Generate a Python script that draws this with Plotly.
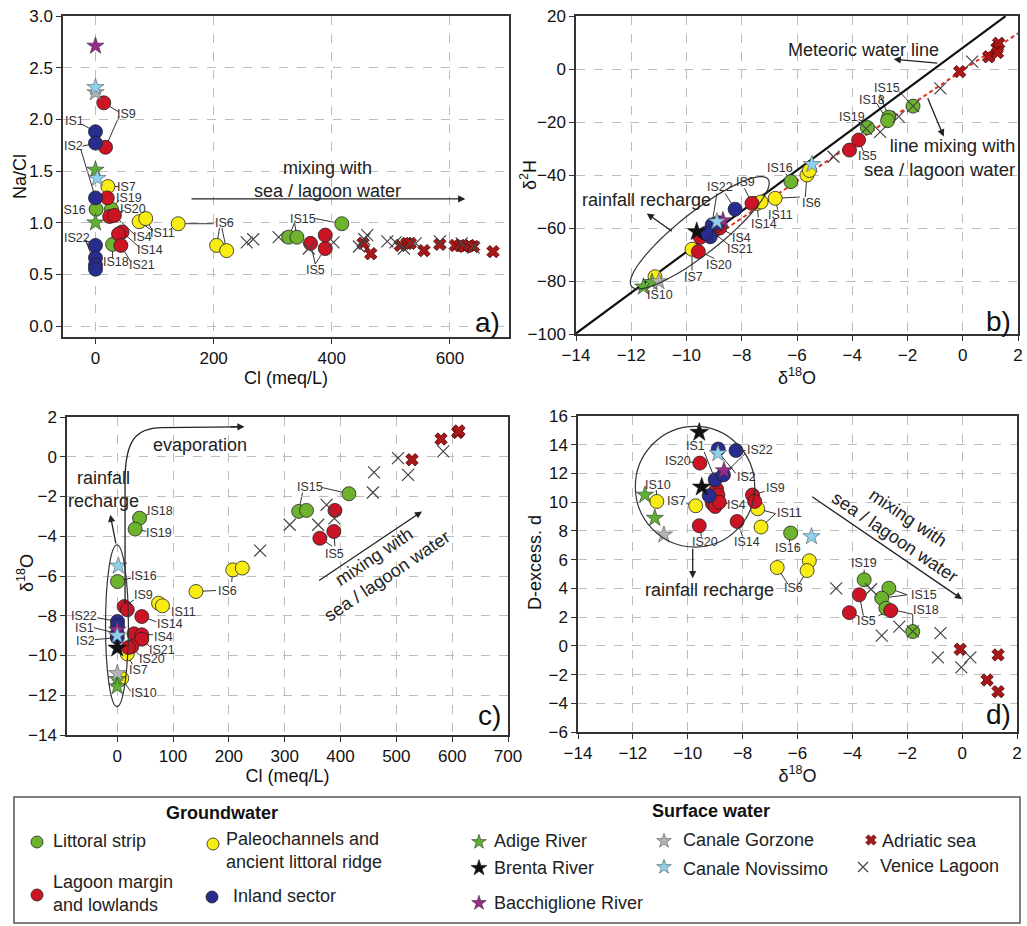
import numpy as np
import plotly.graph_objects as go

FONT = "Liberation Sans, Arial, sans-serif"

# ---------------- DATA ----------------
# Panel a: Cl (meq/L) vs Na/Cl
a_littoral = ([1, 27, 29, 327, 341, 417], [1.13, 1.13, 0.79, 0.86, 0.86, 0.99])
a_paleo = ([21, 74, 85, 140, 205, 222], [1.35, 1.01, 1.04, 0.99, 0.78, 0.73])
a_lagoon = ([14, 17, 20, 24, 32, 45, 39, 43, 364, 389, 389],
            [2.16, 1.73, 1.24, 1.06, 1.07, 0.91, 0.89, 0.78, 0.80, 0.88, 0.75])
a_inland = ([0, 0, 0, 0, 0, 0, 0], [1.88, 1.77, 1.24, 0.78, 0.66, 0.59, 0.55])
a_adige = ([0, 0], [1.51, 1.0])
a_brenta = ([], [])
a_bacch = ([0], [2.71])
a_gorzone = ([0], [2.26])
a_novissimo = ([0, 3], [2.31, 1.43])
a_adriatic = ([453, 466, 516, 527, 533, 556, 583, 609, 617, 624, 633, 640, 673],
              [0.80, 0.70, 0.78, 0.80, 0.80, 0.73, 0.79, 0.78, 0.78, 0.77, 0.78, 0.77, 0.72])
a_venice = ([256, 267, 310, 361, 403, 446, 455, 460, 494, 508, 522, 542, 583, 620, 640],
            [0.81, 0.84, 0.86, 0.75, 0.81, 0.77, 0.84, 0.88, 0.82, 0.81, 0.75, 0.80, 0.82, 0.80, 0.76])

# Panel b: d18O vs d2H
b_littoral = ([-1.8, -2.68, -2.72, -3.45, -6.22], [-14, -18.2, -19.5, -22.1, -42.5])
b_paleo = ([-5.64, -5.55, -6.79, -7.45, -7.3, -9.8, -11.14], [-40, -38.3, -48.8, -50.7, -50.2, -68, -78.4])
b_lagoon = ([-7.63, -3.77, -4.1, -9.5, -9.57, -9.0, -8.8, -9.2, -8.9],
            [-50.7, -26.8, -30.6, -63.5, -68.9, -61, -60, -62.5, -59])
b_inland = ([-8.24, -9.07, -9.14, -8.85, -9.3], [-52.9, -58.8, -63.3, -58, -62])
b_adige = ([-11.56, -11.25], [-82.2, -80.5])
b_brenta = ([-9.63], [-61.4])
b_bacch = ([-8.68], [-57.2])
b_gorzone = ([-11.0], [-80.2])
b_novissimo = ([-8.9, -5.46], [-57.6, -36])
b_adriatic = ([-0.11, 0.94, 1.24, 1.3, 1.26], [-1.0, 4.6, 7.8, 9.7, 6.2])
b_venice = ([-4.68, -2.99, -2.32, -0.81, 0.34, -3.5, -1.8], [-33.1, -23.7, -18, -7.3, 2.8, -22.5, -14])
MWL_SLOPE, MWL_INTERCEPT, MWL_X = 7.7, 8.0, [-14, 1.55]
MIX_SLOPE, MIX_INTERCEPT, MIX_X = 6.98, -0.46, [-9.0, 2.0]

# Panel c: Cl (meq/L) vs d18O
c_littoral = ([40, 32, 0.5, 415, 325, 339], [-3.09, -3.64, -6.28, -1.86, -2.75, -2.7])
c_paleo = ([141, 207, 224, 74, 81, 18, 8], [-6.78, -5.69, -5.6, -7.37, -7.5, -9.92, -11.15])
c_lagoon = ([12.5, 18, 44, 30, 44, 44, 26, 20, 390, 388, 363],
            [-7.54, -7.7, -8.04, -8.91, -8.96, -9.18, -9.55, -9.6, -2.7, -3.76, -4.1])
c_inland = ([0.5, 0.5, 0, 0], [-8.29, -8.5, -8.9, -9.1])
c_adige = ([0, 0], [-11.2, -11.56])
c_brenta = ([0], [-9.63])
c_bacch = ([0], [-8.71])
c_gorzone = ([0], [-10.9])
c_novissimo = ([2, 0], [-5.49, -9.0])
c_adriatic = ([528, 580, 610, 612], [-0.15, 0.89, 1.22, 1.3])
c_venice = ([256, 309, 360, 375, 389, 458, 460, 503, 521, 584],
            [-4.72, -3.42, -3.42, -2.42, -3.1, -1.8, -0.79, -0.07, -0.91, 0.27])

# Panel d: d18O vs D-excess
d_littoral = ([-6.25, -3.57, -2.67, -2.93, -2.78, -1.8], [7.85, 4.6, 4.01, 3.32, 2.62, 0.99])
d_paleo = ([-11.13, -9.71, -7.45, -7.33, -6.74, -5.57, -5.65], [10.05, 9.75, 9.54, 8.27, 5.45, 5.92, 5.24])
d_lagoon = ([-9.56, -9.58, -8.2, -7.64, -7.56, -8.95, -8.9, -9.1, -9.0, -8.85, -3.75, -4.11, -2.6],
            [12.72, 8.36, 8.66, 10.5, 10.05, 10.9, 10.5, 9.9, 9.7, 10.0, 3.55, 2.31, 2.45])
d_inland = ([-8.89, -8.24, -9.0, -8.7, -9.22], [13.7, 13.6, 11.56, 11.9, 10.45])
d_adige = ([-11.56, -11.2], [10.5, 8.89])
d_brenta = ([-9.58, -9.49], [14.86, 11.05])
d_bacch = ([-8.68], [12.2])
d_gorzone = ([-10.87], [7.73])
d_novissimo = ([-8.9, -5.49], [13.4, 7.61])
d_adriatic = ([-0.07, 1.31, 0.91, 1.31], [-0.24, -0.63, -2.38, -3.19])
d_venice = ([-4.59, -3.32, -2.93, -2.29, -1.8, -0.79, -0.88, -0.03, 0.3],
            [4.0, 3.94, 0.71, 1.34, 1.0, 0.88, -0.8, -1.5, -0.8])

CATEGORY_NAMES = ["Littoral strip", "Paleochannels and ancient littoral ridge", "Lagoon margin and lowlands",
                  "Inland sector", "Adige River", "Brenta River", "Bacchiglione River", "Canale Gorzone",
                  "Canale Novissimo", "Adriatic sea", "Venice Lagoon"]

# ---------------- STYLES ----------------
GREEN, YELLOW, RED, BLUE = "#6db32e", "#f7ec13", "#cc1424", "#272c8e"
STYLE = {
    "Littoral strip": dict(symbol="circle", color=GREEN, size=14, line=dict(color="#222", width=0.8)),
    "Paleochannels and ancient littoral ridge": dict(symbol="circle", color=YELLOW, size=14, line=dict(color="#222", width=0.8)),
    "Lagoon margin and lowlands": dict(symbol="circle", color=RED, size=14, line=dict(color="#222", width=0.8)),
    "Inland sector": dict(symbol="circle", color=BLUE, size=14, line=dict(color="#222", width=0.8)),
    "Adige River": dict(symbol="star", color="#5cb133", size=13, line=dict(color="#333", width=0.6)),
    "Brenta River": dict(symbol="star", color="#111111", size=14, line=dict(color="#111", width=0.6)),
    "Bacchiglione River": dict(symbol="star", color="#9a2a8e", size=13, line=dict(color="#333", width=0.6)),
    "Canale Gorzone": dict(symbol="star", color="#b4b4b4", size=13, line=dict(color="#555", width=0.6)),
    "Canale Novissimo": dict(symbol="star", color="#8fd0ef", size=13, line=dict(color="#555", width=0.6)),
    "Adriatic sea": dict(symbol="x", color="#a81818", size=11, line=dict(color="#4d0000", width=0.8)),
    "Venice Lagoon": dict(symbol="x-thin", color="#444", size=12, line=dict(color="#444", width=1.2)),
}
DRAW_ORDER = ["Adriatic sea", "Littoral strip", "Paleochannels and ancient littoral ridge",
              "Lagoon margin and lowlands", "Inland sector", "Adige River", "Brenta River",
              "Bacchiglione River", "Canale Gorzone", "Canale Novissimo", "Venice Lagoon"]

PANELS = {
    "a": ("x", "y", [a_littoral, a_paleo, a_lagoon, a_inland, a_adige, a_brenta, a_bacch, a_gorzone, a_novissimo, a_adriatic, a_venice]),
    "b": ("x2", "y2", [b_littoral, b_paleo, b_lagoon, b_inland, b_adige, b_brenta, b_bacch, b_gorzone, b_novissimo, b_adriatic, b_venice]),
    "c": ("x3", "y3", [c_littoral, c_paleo, c_lagoon, c_inland, c_adige, c_brenta, c_bacch, c_gorzone, c_novissimo, c_adriatic, c_venice]),
    "d": ("x4", "y4", [d_littoral, d_paleo, d_lagoon, d_inland, d_adige, d_brenta, d_bacch, d_gorzone, d_novissimo, d_adriatic, d_venice]),
}

W, H = 1027, 926
fig = go.Figure()
ann, shapes = [], []
LC = "#333"

# lines in panel b (drawn first, below markers)
mx = np.array(MWL_X)
fig.add_trace(go.Scatter(x=mx, y=MWL_SLOPE * mx + MWL_INTERCEPT, mode="lines", xaxis="x2", yaxis="y2",
                         line=dict(color="#111", width=2.2), showlegend=False, hoverinfo="skip"))
mm = np.array(MIX_X)
fig.add_trace(go.Scatter(x=mm, y=MIX_SLOPE * mm + MIX_INTERCEPT, mode="lines", xaxis="x2", yaxis="y2",
                         line=dict(color="#e03020", width=2, dash="4px,3px"), showlegend=False, hoverinfo="skip"))

for key, (xr, yr, series) in PANELS.items():
    by_name = dict(zip(CATEGORY_NAMES, series))
    for name in DRAW_ORDER:
        xs, ys = by_name[name]
        if not xs:
            continue
        st = STYLE[name]
        fig.add_trace(go.Scatter(x=xs, y=ys, mode="markers", xaxis=xr, yaxis=yr, name=name, showlegend=False,
                                 marker=dict(symbol=st["symbol"], color=st["color"], size=st["size"], line=st["line"])))

REFS = {"a": ("x", "y"), "b": ("x2", "y2"), "c": ("x3", "y3"), "d": ("x4", "y4")}


def label(p, text, x, y, segs=(), size=12.5):
    xr, yr = REFS[p]
    ann.append(dict(xref=xr, yref=yr, x=x, y=y, text=text, showarrow=False,
                    font=dict(family=FONT, size=size, color="#333")))
    for (x0, y0, x1, y1) in segs:
        shapes.append(dict(type="line", xref=xr, yref=yr, x0=x0, y0=y0, x1=x1, y1=y1, layer="below",
                           line=dict(color=LC, width=1)))


def text(p, t, x, y, size=18, angle=0, **kw):
    xr, yr = REFS[p]
    ann.append(dict(xref=xr, yref=yr, x=x, y=y, text=t, showarrow=False, textangle=angle,
                    font=dict(family=FONT, size=size, color="#222"), **kw))


def arrow(p, x0, y0, x1, y1):
    xr, yr = REFS[p]
    ann.append(dict(xref=xr, yref=yr, axref=xr, ayref=yr, x=x1, y=y1, ax=x0, ay=y0, text="",
                    showarrow=True, arrowhead=2, arrowsize=1.1, arrowwidth=1.3, arrowcolor="#222"))


def ytitle(t, px, py):
    ann.append(dict(xref="paper", yref="paper", x=px / W, y=1 - py / H, text=t, showarrow=False,
                    xanchor="center", yanchor="middle",
                    textangle=-90, font=dict(family=FONT, size=18, color="#111")))


# ---- panel a labels ----
label("a", "IS9", 53, 2.05, [(40, 2.07, 14, 2.16), (40, 2.03, 17, 1.73)])
label("a", "IS1", -35, 1.98, [(-22, 1.95, 0, 1.88)])
label("a", "IS2", -38, 1.74, [(-22, 1.74, 0, 1.77), (-25, 1.71, 0, 1.24)])
label("a", "IS7", 53, 1.35, [(40, 1.35, 21, 1.35)])
label("a", "IS19", 56, 1.24, [(40, 1.22, 27, 1.13)])
label("a", "IS16", -38, 1.12)
label("a", "IS20", 64, 1.13, [(48, 1.12, 32, 1.07)])
label("a", "IS11", 114, 0.90, [(97, 0.92, 74, 1.01), (97, 0.92, 85, 1.04)])
label("a", "IS4", 80, 0.86, [(67, 0.88, 32, 1.07)])
label("a", "IS14", 93, 0.74, [(75, 0.76, 45, 0.91)])
label("a", "IS22", -32, 0.85, [(-17, 0.83, 0, 0.78), (-17, 0.83, 0, 0.66), (-17, 0.83, 0, 0.59)])
label("a", "IS18", 35, 0.62, [(29, 0.66, 29, 0.79)])
label("a", "IS21", 79, 0.59, [(60, 0.62, 43, 0.78)])
label("a", "IS6", 218, 1.0, [(140, 0.99, 200, 0.99), (210, 0.95, 205, 0.78), (214, 0.95, 222, 0.73)])
label("a", "IS15", 352, 1.04, [(372, 1.04, 417, 0.99), (337, 1.0, 327, 0.86), (337, 1.0, 341, 0.86)])
label("a", "IS5", 372, 0.54, [(372, 0.6, 364, 0.80), (372, 0.6, 389, 0.75)])
text("a", "mixing with<br>sea / lagoon water", 392, 1.42, size=18)
arrow("a", 160, 1.23, 626, 1.23)

# ---- panel b labels ----
label("b", "IS15", -2.74, -7.3, [(-2.3, -8.5, -1.8, -14), (-3.0, -9.5, -2.68, -18.2)])
label("b", "IS18", -3.29, -11.7, [(-3.1, -13.2, -2.72, -19.5)])
label("b", "IS19", -4.01, -18, [(-3.8, -19.8, -3.45, -22.1)])
label("b", "IS16", -6.61, -37.5, [(-6.4, -39.5, -6.22, -42.5)])
label("b", "IS6", -5.46, -50.7, [(-5.7, -48.3, -5.64, -40), (-5.9, -48.3, -6.79, -48.8)])
label("b", "IS5", -3.45, -32.8, [(-3.6, -31, -3.77, -26.8)])
label("b", "IS11", -6.61, -55.1, [(-6.7, -53, -6.79, -48.8)])
label("b", "IS14", -7.21, -58.5, [(-7.4, -56, -7.45, -50.7)])
label("b", "IS9", -7.88, -42.5, [(-7.9, -45, -7.63, -50.7)])
label("b", "IS22", -8.78, -44.4, [(-8.6, -47, -8.24, -52.9), (-8.9, -47, -9.07, -58)])
label("b", "IS4", -8.0, -63.9, [(-8.35, -62.5, -8.8, -60)])
label("b", "IS21", -8.06, -68, [(-8.45, -66.5, -9.0, -62)])
label("b", "IS20", -8.84, -74, [(-9.0, -71.5, -9.5, -68.9)])
label("b", "IS7", -9.75, -78.4, [(-9.8, -76, -9.8, -68)])
label("b", "IS10", -10.96, -85.3, [(-11.1, -83, -11.14, -78.4)])
text("b", "Meteoric water line", -3.59, 7.2)
arrow("b", -0.87, 2.15, -2.5, 3.7)
text("b", "line mixing with<br>sea / lagoon water", 1.95, -33.4, size=18.5, xanchor="right", align="right")
arrow("b", -1.29, -10.5, -0.69, -25.5)
text("b", "rainfall recharge", -11.44, -49.4)
arrow("b", -10.47, -61.6, -11.44, -54.5)
# ellipse around rainfall recharge cluster (b)
C = np.array([-9.52, -61.8]); U = np.array([2.47, 20.25]); V = np.array([0.468, -6.23])
t = np.linspace(0, 2 * np.pi, 73)
pts = C[None, :] + np.cos(t)[:, None] * U[None, :] + np.sin(t)[:, None] * V[None, :]
path = "M " + " L ".join(f"{px:.4f},{py:.4f}" for px, py in pts) + " Z"
shapes.append(dict(type="path", path=path, xref="x2", yref="y2", line=dict(color="#333", width=1.2)))

# ---- panel c labels ----
label("c", "IS18", 77, -2.75, [(55, -2.9, 40, -3.09)])
label("c", "IS19", 74, -3.83, [(52, -3.75, 32, -3.64)])
label("c", "IS16", 48, -6.0, [(25, -6.1, 0.5, -6.28)])
label("c", "IS9", 47, -6.95, [(30, -7.2, 12.5, -7.54)])
label("c", "IS11", 118, -7.8, [(94, -7.65, 81, -7.5)])
label("c", "IS14", 94, -8.4, [(70, -8.3, 44, -8.04)])
label("c", "IS22", -60, -8.0, [(-36, -8.1, 0.5, -8.29)])
label("c", "IS1", -58, -8.6, [(-42, -8.6, 0, -8.9)])
label("c", "IS2", -56, -9.25, [(-40, -9.2, 0, -9.1)])
label("c", "IS4", 82, -9.05, [(64, -8.95, 44, -8.96)])
label("c", "IS21", 80, -9.7, [(58, -9.55, 44, -9.18)])
label("c", "IS20", 62, -10.2, [(42, -10.05, 26, -9.55)])
label("c", "IS7", 38, -10.75, [(27, -10.45, 18, -9.92)])
label("c", "IS10", 48, -11.9, [(24, -11.8, 8, -11.15)])
label("c", "IS6", 198, -6.73, [(177, -6.73, 141, -6.78), (205, -6.3, 207, -5.69)])
label("c", "IS15", 345, -1.5, [(332, -1.8, 325, -2.75), (367, -1.55, 415, -1.86)])
label("c", "IS5", 390, -4.9, [(385, -4.5, 363, -4.1), (390, -4.5, 388, -3.76)])
text("c", "evaporation", 148, 0.6)
shapes.append(dict(type="path", xref="x3", yref="y3", line=dict(color="#222", width=1.3),
                   path="M 14,-7.4 L 14,-1.2 C 14,0.9 35,1.45 80,1.47 L 215,1.5"))
arrow("c", 200, 1.5, 228, 1.51)
text("c", "rainfall<br>recharge", -25, -1.66)
arrow("c", -2, -4.43, -12.5, -2.92)
shapes.append(dict(type="circle", xref="x3", yref="y3", x0=-21, x1=20, y0=-12.57, y1=-4.43,
                   line=dict(color="#333", width=1.2)))
text("c", "mixing with<br>sea / lagoon water", 471, -5.52, size=18, angle=-34)
arrow("c", 359, -6.28, 546, -2.75)

# ---- panel d labels ----
label("d", "IS1", -9.7, 13.9, [(-9.4, 13.5, -9.0, 11.56)])
label("d", "IS22", -7.37, 13.65, [(-7.9, 13.6, -8.24, 13.6), (-7.9, 13.4, -8.7, 11.9)])
label("d", "IS20", -10.35, 12.9, [(-9.95, 12.8, -9.56, 12.72)])
label("d", "IS2", -7.85, 11.75, [(-8.25, 12.0, -8.89, 13.5)])
label("d", "IS10", -11.07, 11.2, [(-11.15, 10.85, -11.13, 10.4)])
label("d", "IS7", -10.4, 10.05, [(-10.05, 9.9, -9.71, 9.75)])
label("d", "IS4", -8.21, 9.82, [(-8.55, 9.9, -8.85, 10.0)])
label("d", "IS20", -9.37, 7.26, [(-9.5, 7.6, -9.58, 8.36)])
label("d", "IS14", -7.85, 7.26, [(-8.0, 7.6, -8.2, 8.66)])
label("d", "IS9", -6.8, 10.98, [(-7.2, 10.75, -7.64, 10.5)])
label("d", "IS11", -6.3, 9.28, [(-6.8, 9.2, -7.45, 9.54), (-6.8, 9.2, -7.33, 8.27)])
label("d", "IS16", -6.34, 6.8, [(-6.3, 7.2, -6.25, 7.85)])
label("d", "IS6", -6.16, 4.0, [(-6.35, 4.3, -6.74, 5.45), (-5.95, 4.3, -5.65, 5.24)])
label("d", "IS19", -3.57, 5.8, [(-3.57, 5.3, -3.57, 4.6)])
label("d", "IS15", -1.4, 3.55, [(-2.0, 3.55, -2.67, 4.01), (-2.0, 3.55, -2.93, 3.32)])
label("d", "IS18", -1.3, 2.5, [(-1.8, 2.2, -1.8, 1.35), (-1.8, 2.2, -2.78, 2.62)])
label("d", "IS5", -3.48, 1.73, [(-3.75, 2.05, -4.11, 2.31), (-3.6, 2.1, -3.75, 3.55), (-3.05, 2.1, -2.6, 2.45)])
text("d", "rainfall recharge", -9.19, 3.9)
arrow("d", -9.82, 6.87, -9.82, 4.71)
shapes.append(dict(type="circle", xref="x4", yref="y4", x0=-11.91, x1=-7.56, y0=6.87, y1=15.28,
                   line=dict(color="#333", width=1.2)))
text("d", "mixing with<br>sea / lagoon water", -2.2, 8.25, size=18, angle=34)
arrow("d", -5.52, 10.45, 0.0, 3.25)

# panel letters
for xr, yr, lab, xx, yy in [("x", "y", "a)", 0.985, 0.045), ("x2", "y2", "b)", 0.988, 0.04),
                            ("x3", "y3", "c)", 0.988, 0.06), ("x4", "y4", "d)", 0.99, 0.055)]:
    ann.append(dict(xref=f"{xr} domain", yref=f"{yr} domain", x=xx, y=yy, text=lab, showarrow=False,
                    xanchor="right", yanchor="middle", font=dict(family=FONT, size=28, color="#111")))

# y-axis titles (placed as in the reference)
ytitle("Na/Cl", 20, 177)
ytitle("δ<sup>2</sup>H", 529, 175)
ytitle("δ<sup>18</sup>O", 25, 573)
ytitle("D-excess. d", 535, 563)

# ---------------- LEGEND (overlay pixel axis limited to legend area) ----------------
LEG_TOP = 790
LEG_ITEMS = [
    ("Littoral strip", 37, 842, "Littoral strip", 51, 841),
    ("Paleochannels and ancient littoral ridge", 213, 844, "Paleochannels and<br>ancient littoral ridge", 224, 850),
    ("Lagoon margin and lowlands", 37, 895, "Lagoon margin<br>and lowlands", 51, 893),
    ("Inland sector", 212, 897, "Inland sector", 231, 896),
    ("Adige River", 479, 842, "Adige River", 492, 841),
    ("Brenta River", 479, 868, "Brenta River", 492, 868),
    ("Bacchiglione River", 479, 903, "Bacchiglione River", 492, 903),
    ("Canale Gorzone", 664, 841, "Canale Gorzone", 681, 840),
    ("Canale Novissimo", 664, 867, "Canale Novissimo", 681, 869),
    ("Adriatic sea", 871, 840, "Adriatic sea", 880, 841),
    ("Venice Lagoon", 863, 867, "Venice Lagoon", 878, 866),
]
for name, mx_, my_, t_, tx, ty in LEG_ITEMS:
    st = STYLE[name]
    sz = st["size"] - 2
    fig.add_trace(go.Scatter(x=[mx_], y=[my_], mode="markers", xaxis="x5", yaxis="y5", showlegend=False,
                             hoverinfo="skip",
                             marker=dict(symbol=st["symbol"], color=st["color"], size=sz, line=st["line"])))
    ann.append(dict(xref="x5", yref="y5", x=tx, y=ty, text=t_, showarrow=False, xanchor="left", align="left",
                    font=dict(family=FONT, size=18, color="#222")))
ann.append(dict(xref="x5", yref="y5", x=222, y=813, text="<b>Groundwater</b>", showarrow=False,
                font=dict(family=FONT, size=18, color="#111")))
ann.append(dict(xref="x5", yref="y5", x=711, y=811, text="<b>Surface water</b>", showarrow=False,
                font=dict(family=FONT, size=18, color="#111")))
shapes.append(dict(type="rect", xref="x5", yref="y5", x0=14, x1=1020, y0=797, y1=923,
                   line=dict(color="#555", width=1.5)))

# ---------------- AXES ----------------


def ax(dom, **kw):
    d = dict(domain=dom, showline=True, linecolor="#333", linewidth=1.5, mirror=True,
             ticks="outside", ticklen=5, tickcolor="#333", tickwidth=1.2, automargin=False,
             showgrid=True, gridcolor="#bdbdbd", gridwidth=1.4, griddash="dash",
             zeroline=False, tickfont=dict(family=FONT, size=17, color="#111"),
             title_font=dict(family=FONT, size=18, color="#111"))
    d.update(kw)
    return d


def dx(a, b):
    return [a / W, b / W]


def dy(top, bot):
    return [1 - bot / H, 1 - top / H]


fig.update_layout(
    width=W, height=H, margin=dict(l=0, r=0, t=0, b=0, autoexpand=False),
    paper_bgcolor="white", plot_bgcolor="rgba(0,0,0,0)", showlegend=False,
    xaxis=ax(dx(63, 509), range=[-55, 700], tickvals=[0, 200, 400, 600], anchor="y",
             title=dict(text="Cl (meq/L)", standoff=2)),
    yaxis=ax(dy(16, 337), range=[-0.106, 3.0], tick0=0, dtick=0.5, tickformat=".1f", anchor="x"),
    xaxis2=ax(dx(576, 1018), range=[-14, 2], dtick=2, anchor="y2",
              title=dict(text="δ<sup>18</sup>O", standoff=2)),
    yaxis2=ax(dy(16, 334), range=[-100, 20], dtick=20, anchor="x2"),
    xaxis3=ax(dx(67, 508), range=[-90, 700], tick0=0, dtick=100, anchor="y3",
              title=dict(text="Cl (meq/L)", standoff=4)),
    yaxis3=ax(dy(417, 735), range=[-14, 2], dtick=2, anchor="x3"),
    xaxis4=ax(dx(578, 1017), range=[-14, 2], dtick=2, anchor="y4",
              title=dict(text="δ<sup>18</sup>O", standoff=4)),
    yaxis4=ax(dy(416, 732), range=[-6, 16], dtick=2, anchor="x4"),
    xaxis5=dict(domain=[0, 1], range=[0, W], visible=False, fixedrange=True, anchor="y5", automargin=False),
    yaxis5=dict(domain=dy(LEG_TOP, H), range=[H, LEG_TOP], visible=False, fixedrange=True, anchor="x5",
                automargin=False),
    annotations=ann, shapes=shapes,
)

fig.write_html("out.html", config={"displayModeBar": False},
               post_script="document.body.style.margin='0px';")
